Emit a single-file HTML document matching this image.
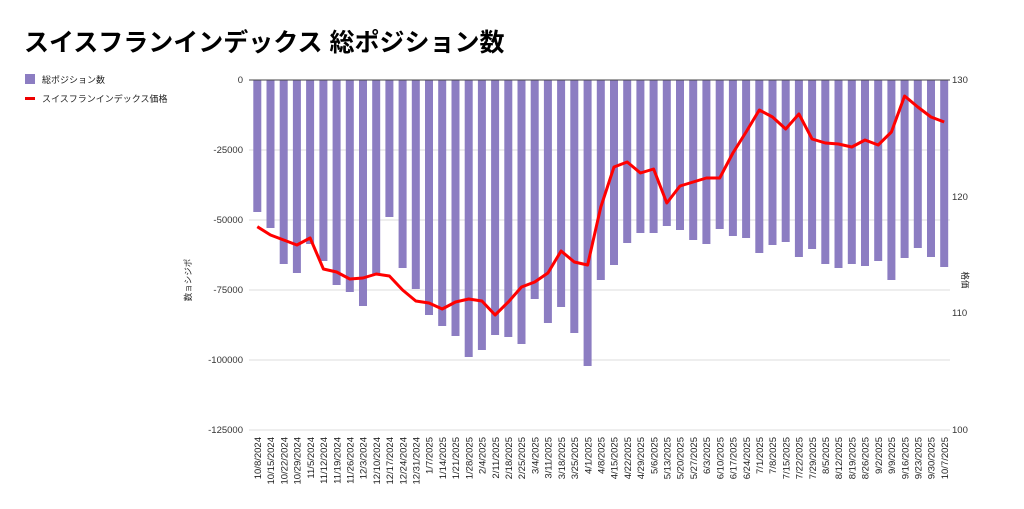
<!DOCTYPE html>
<html><head><meta charset="utf-8"><style>
body{margin:0;background:#fff;}
svg{display:block;font-family:"Liberation Sans","Noto Sans CJK JP",sans-serif;}
</style></head><body>
<svg width="1024" height="509" viewBox="0 0 1024 509" xmlns="http://www.w3.org/2000/svg">
<text x="24" y="51" font-size="25" font-weight="bold" fill="#000">スイスフランインデックス 総ポジション数</text>
<rect x="25" y="74" width="10" height="10" fill="#8c7dc2"/>
<text x="42" y="83" font-size="9" fill="#222">総ポジション数</text>
<rect x="25" y="97" width="10" height="3" fill="#e00"/>
<text x="42" y="102" font-size="9" fill="#222">スイスフランインデックス価格</text>
<g stroke="#ddd" stroke-width="1">
<line x1="249" y1="150" x2="950" y2="150"/><line x1="249" y1="220" x2="950" y2="220"/>
<line x1="249" y1="290" x2="950" y2="290"/><line x1="249" y1="360" x2="950" y2="360"/>
<line x1="249" y1="430" x2="950" y2="430"/>
</g>
<g font-size="9.5" fill="#333" text-anchor="end">
<text x="243" y="83">0</text><text x="243" y="153">-25000</text><text x="243" y="223">-50000</text>
<text x="243" y="293">-75000</text><text x="243" y="363">-100000</text><text x="243" y="433">-125000</text>
</g>
<g font-size="9.5" fill="#333">
<text x="952" y="83">130</text><text x="952" y="200">120</text><text x="952" y="316">110</text><text x="952" y="433">100</text>
</g>
<text transform="translate(191,280) rotate(-90)" font-size="8.5" fill="#222" text-anchor="middle">数ョシジポ</text>
<text transform="translate(962,280) rotate(90)" font-size="8.5" fill="#222" text-anchor="middle">格価</text>
<g fill="#8c7dc2">
<rect x="253.3" y="80" width="8" height="132"/><rect x="266.5" y="80" width="8" height="148"/><rect x="279.7" y="80" width="8" height="184"/><rect x="292.9" y="80" width="8" height="193"/><rect x="306.1" y="80" width="8" height="164"/><rect x="319.4" y="80" width="8" height="181"/><rect x="332.6" y="80" width="8" height="205"/><rect x="345.8" y="80" width="8" height="212"/><rect x="359" y="80" width="8" height="226"/><rect x="372.2" y="80" width="8" height="194"/>
<rect x="385.4" y="80" width="8" height="137"/><rect x="398.6" y="80" width="8" height="188"/><rect x="411.8" y="80" width="8" height="209"/><rect x="425" y="80" width="8" height="235"/><rect x="438.2" y="80" width="8" height="246"/><rect x="451.5" y="80" width="8" height="256"/><rect x="464.7" y="80" width="8" height="277"/><rect x="477.9" y="80" width="8" height="270"/><rect x="491.1" y="80" width="8" height="255"/><rect x="504.3" y="80" width="8" height="257"/>
<rect x="517.5" y="80" width="8" height="264"/><rect x="530.7" y="80" width="8" height="219"/><rect x="543.9" y="80" width="8" height="243"/><rect x="557.1" y="80" width="8" height="227"/><rect x="570.3" y="80" width="8" height="253"/><rect x="583.6" y="80" width="8" height="286"/><rect x="596.8" y="80" width="8" height="200"/><rect x="610" y="80" width="8" height="185"/><rect x="623.2" y="80" width="8" height="163"/><rect x="636.4" y="80" width="8" height="153"/>
<rect x="649.6" y="80" width="8" height="153"/><rect x="662.8" y="80" width="8" height="146"/><rect x="676" y="80" width="8" height="150"/><rect x="689.2" y="80" width="8" height="160"/><rect x="702.4" y="80" width="8" height="164"/><rect x="715.7" y="80" width="8" height="149"/><rect x="728.9" y="80" width="8" height="156"/><rect x="742.1" y="80" width="8" height="158"/><rect x="755.3" y="80" width="8" height="173"/><rect x="768.5" y="80" width="8" height="165"/>
<rect x="781.7" y="80" width="8" height="162"/><rect x="794.9" y="80" width="8" height="177"/><rect x="808.1" y="80" width="8" height="169"/><rect x="821.3" y="80" width="8" height="184"/><rect x="834.5" y="80" width="8" height="188"/><rect x="847.8" y="80" width="8" height="184"/><rect x="861" y="80" width="8" height="186"/><rect x="874.2" y="80" width="8" height="181"/><rect x="887.4" y="80" width="8" height="200"/><rect x="900.6" y="80" width="8" height="178"/>
<rect x="913.8" y="80" width="8" height="168"/><rect x="927" y="80" width="8" height="177"/><rect x="940.2" y="80" width="8" height="187"/>
</g>
<line x1="249" y1="80" x2="950" y2="80" stroke="#444" stroke-width="1"/>
<polyline fill="none" stroke="#f00" stroke-width="3" stroke-linejoin="round" points="257.3,226.7 270.5,235 283.7,240 296.9,245 310.1,238 323.4,269 336.6,272 349.8,279 363,278 376.2,274 389.4,276 402.6,290 415.8,301 429,303 442.2,309 455.5,302 468.7,299 481.9,301 495.1,315 508.3,302 521.5,287 534.7,282 547.9,273 561.1,251 574.3,262 587.6,265 600.8,207 614,167 627.2,162 640.4,173 653.6,169 666.8,203 680,186 693.2,182 706.4,178 719.7,178 732.9,153 746.1,132 759.3,110 772.5,117 785.7,129 798.9,114 812.1,139 825.3,143 838.5,144 851.8,147 865,140 878.2,145 891.4,132 904.6,96 917.8,107 931,117 944.2,122"/>
<g font-size="9.5" fill="#222" text-anchor="end">
<text transform="translate(261,437) rotate(-90)">10/8/2024</text>
<text transform="translate(274.2,437) rotate(-90)">10/15/2024</text>
<text transform="translate(287.4,437) rotate(-90)">10/22/2024</text>
<text transform="translate(300.6,437) rotate(-90)">10/29/2024</text>
<text transform="translate(313.8,437) rotate(-90)">11/5/2024</text>
<text transform="translate(327.1,437) rotate(-90)">11/12/2024</text>
<text transform="translate(340.3,437) rotate(-90)">11/19/2024</text>
<text transform="translate(353.5,437) rotate(-90)">11/26/2024</text>
<text transform="translate(366.7,437) rotate(-90)">12/3/2024</text>
<text transform="translate(379.9,437) rotate(-90)">12/10/2024</text>
<text transform="translate(393.1,437) rotate(-90)">12/17/2024</text>
<text transform="translate(406.3,437) rotate(-90)">12/24/2024</text>
<text transform="translate(419.5,437) rotate(-90)">12/31/2024</text>
<text transform="translate(432.7,437) rotate(-90)">1/7/2025</text>
<text transform="translate(445.9,437) rotate(-90)">1/14/2025</text>
<text transform="translate(459.2,437) rotate(-90)">1/21/2025</text>
<text transform="translate(472.4,437) rotate(-90)">1/28/2025</text>
<text transform="translate(485.6,437) rotate(-90)">2/4/2025</text>
<text transform="translate(498.8,437) rotate(-90)">2/11/2025</text>
<text transform="translate(512,437) rotate(-90)">2/18/2025</text>
<text transform="translate(525.2,437) rotate(-90)">2/25/2025</text>
<text transform="translate(538.4,437) rotate(-90)">3/4/2025</text>
<text transform="translate(551.6,437) rotate(-90)">3/11/2025</text>
<text transform="translate(564.8,437) rotate(-90)">3/18/2025</text>
<text transform="translate(578,437) rotate(-90)">3/25/2025</text>
<text transform="translate(591.3,437) rotate(-90)">4/1/2025</text>
<text transform="translate(604.5,437) rotate(-90)">4/8/2025</text>
<text transform="translate(617.7,437) rotate(-90)">4/15/2025</text>
<text transform="translate(630.9,437) rotate(-90)">4/22/2025</text>
<text transform="translate(644.1,437) rotate(-90)">4/29/2025</text>
<text transform="translate(657.3,437) rotate(-90)">5/6/2025</text>
<text transform="translate(670.5,437) rotate(-90)">5/13/2025</text>
<text transform="translate(683.7,437) rotate(-90)">5/20/2025</text>
<text transform="translate(696.9,437) rotate(-90)">5/27/2025</text>
<text transform="translate(710.1,437) rotate(-90)">6/3/2025</text>
<text transform="translate(723.4,437) rotate(-90)">6/10/2025</text>
<text transform="translate(736.6,437) rotate(-90)">6/17/2025</text>
<text transform="translate(749.8,437) rotate(-90)">6/24/2025</text>
<text transform="translate(763,437) rotate(-90)">7/1/2025</text>
<text transform="translate(776.2,437) rotate(-90)">7/8/2025</text>
<text transform="translate(789.4,437) rotate(-90)">7/15/2025</text>
<text transform="translate(802.6,437) rotate(-90)">7/22/2025</text>
<text transform="translate(815.8,437) rotate(-90)">7/29/2025</text>
<text transform="translate(829,437) rotate(-90)">8/5/2025</text>
<text transform="translate(842.2,437) rotate(-90)">8/12/2025</text>
<text transform="translate(855.5,437) rotate(-90)">8/19/2025</text>
<text transform="translate(868.7,437) rotate(-90)">8/26/2025</text>
<text transform="translate(881.9,437) rotate(-90)">9/2/2025</text>
<text transform="translate(895.1,437) rotate(-90)">9/9/2025</text>
<text transform="translate(908.3,437) rotate(-90)">9/16/2025</text>
<text transform="translate(921.5,437) rotate(-90)">9/23/2025</text>
<text transform="translate(934.7,437) rotate(-90)">9/30/2025</text>
<text transform="translate(947.9,437) rotate(-90)">10/7/2025</text>
</g>
</svg>
</body></html>
